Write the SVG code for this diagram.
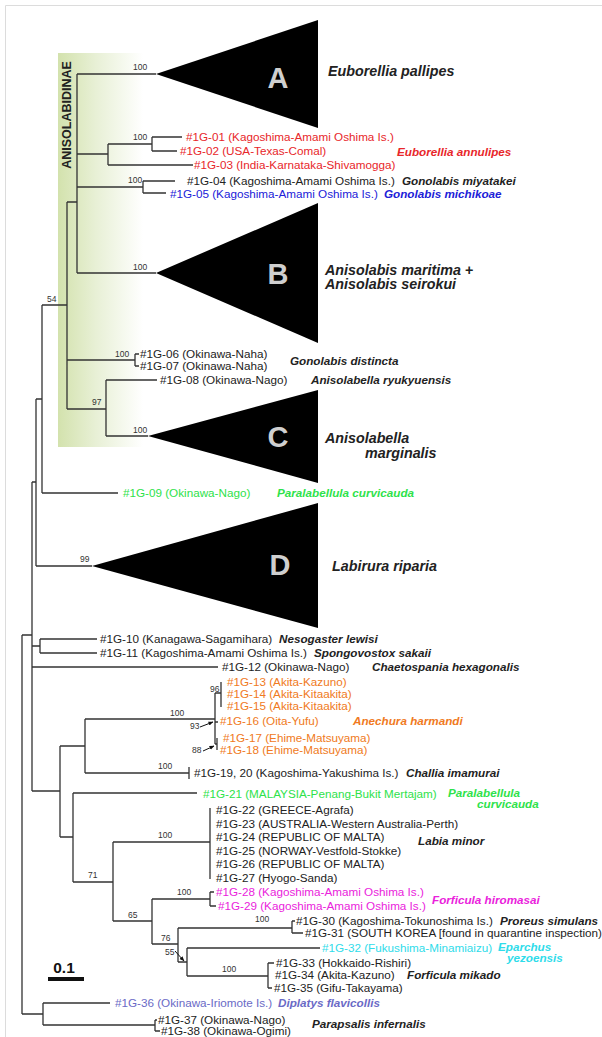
<svg xmlns="http://www.w3.org/2000/svg" width="602" height="1037" viewBox="0 0 602 1037">
<defs>
<linearGradient id="sub" x1="0" y1="0" x2="1" y2="0">
<stop offset="0" stop-color="#d3e2ad"/>
<stop offset="0.45" stop-color="#e8f0d6"/>
<stop offset="1" stop-color="#ffffff"/>
</linearGradient>
<marker id="ah" viewBox="0 0 10 10" refX="9" refY="5" markerWidth="5" markerHeight="5" orient="auto" markerUnits="userSpaceOnUse">
<path d="M0,1 L10,5 L0,9 Z" fill="#111"/>
</marker>
</defs>
<style>
text{font-family:"Liberation Sans",Arial,sans-serif;}
.lf{font-size:11.7px;fill:#222;}
.sp{font-size:11.7px;font-weight:bold;font-style:italic;fill:#222;}
.big{font-size:14.3px;font-weight:bold;font-style:italic;fill:#222;}
.bs{font-size:8.5px;fill:#333;}
.let{font-size:29px;font-weight:bold;fill:#cfcfcf;text-anchor:middle;}
.red{fill:#e8262a;}
.blu{fill:#2020d8;}
.grn{fill:#2ee24a;}
.org{fill:#f07a22;}
.mag{fill:#ea22dc;}
.cyn{fill:#2fdcea;}
.sla{fill:#6a6ac6;}
.br{fill:none;stroke:#333;stroke-width:1.3;}
.tri{fill:#000;}
.arr{stroke:#111;stroke-width:1;fill:none;marker-end:url(#ah);}
</style>
<rect width="602" height="1037" fill="#fff"/>
<path d="M5.5,1037 V5.5 H602" fill="none" stroke="#dcdcdc" stroke-width="1"/>
<g id="subfamily">
<rect x="58" y="53" width="85" height="394" fill="url(#sub)"/>
<text transform="translate(71,115) rotate(-90)" text-anchor="middle" style="font-size:12.5px;font-weight:bold;fill:#222;">ANISOLABIDINAE</text>
</g>
<g id="connectors" class="br">
<path d="M77,74 V273 M77,74 H156 M77,273 H156 M67,202 H77"/>
<path d="M77,154 H108 M108,144 V165 M108,144 H152 M108,165 H193 M152,137 V151 M152,137 H182 M152,151 H177"/>
<path d="M77,187 H143 M143,181 V193 M143,181 H175 M143,193 H166"/>
<path d="M67,202 V409 M67,360 H135 M135,354 V366 M135,354 H139 M135,366 H139"/>
<path d="M67,409 H106 M106,380 V436 M106,380 H157 M106,436 H148"/>
<path d="M42,305 H67 M42,305 V493 M42,493 H118"/>
<path d="M36,399 H42 M36,399 V566 M36,566 H92"/>
<path d="M32,482 H36 M32,482 V791 M22,635 H32 M22,635 V1014"/>
<path d="M32,646 H40 M40,639 V653 M40,639 H97 M40,653 H97 M32,667 H218"/>
<path d="M32,791 H60 M60,746 V837 M60,746 H85 M85,719 V773 M85,719 H215 M85,773 H189 M189,767 V779"/>
<path d="M215,693 V744 M215,693 H221 M221,682 V707 M215,722 H218 M215,744 H217 M217,738 V750"/>
<path d="M60,837 H73 M73,793 V882 M73,793 H197 M73,882 H113 M113,842 V921 M113,842 H210 M210,808 V879"/>
<path d="M113,921 H152 M152,899 V944 M152,899 H210 M210,892 V906 M210,892 H214 M210,906 H216"/>
<path d="M152,944 H178 M178,928 V962 M178,928 H292 M292,921 V933 M292,921 H295 M292,933 H303"/>
<path d="M178,962 H187 M187,948 V976 M187,948 H320 M187,976 H268 M268,963 V988 M268,963 H274 M268,988 H272"/>
<path d="M22,1014 H43 M43,1003 V1025 M43,1003 H110 M43,1025 H155 M155,1020 V1031 M155,1020 H157 M155,1031 H160"/>
<path class="arr" d="M200,727 L213,722"/>
<path class="arr" d="M203,751 L214,746"/>
<path class="arr" d="M175,951 L184,961"/>
</g>
<g id="clade-A">
<polygon class="tri" points="156,74 318,20 318,128"/>
<text class="let" x="278" y="88">A</text>
<text class="big" x="328" y="76">Euborellia pallipes</text>
</g>
<g id="clade-B">
<polygon class="tri" points="156,273 318,203 318,343"/>
<text class="let" x="278" y="284">B</text>
<text class="big" x="325" y="275">Anisolabis maritima +</text>
<text class="big" x="325" y="289">Anisolabis seirokui</text>
</g>
<g id="clade-C">
<polygon class="tri" points="148,436 318,390 318,483"/>
<text class="let" x="278" y="447">C</text>
<text class="big" x="325" y="443">Anisolabella</text>
<text class="big" x="365" y="458">marginalis</text>
</g>
<g id="clade-D">
<polygon class="tri" points="92,566 318,503 318,628"/>
<text class="let" x="280" y="575">D</text>
<text class="big" x="332" y="571">Labirura riparia</text>
</g>
<g id="support">
<text class="bs" x="133" y="70">100</text>
<text class="bs" x="133" y="140">100</text>
<text class="bs" x="128" y="183">100</text>
<text class="bs" x="133" y="270">100</text>
<text class="bs" x="47" y="302">54</text>
<text class="bs" x="115" y="357">100</text>
<text class="bs" x="92" y="405">97</text>
<text class="bs" x="133" y="433">100</text>
<text class="bs" x="80" y="562">99</text>
<text class="bs" x="210" y="692">96</text>
<text class="bs" x="170" y="716">100</text>
<text class="bs" x="190" y="729">93</text>
<text class="bs" x="192" y="753">88</text>
<text class="bs" x="158" y="769">100</text>
<text class="bs" x="158" y="838">100</text>
<text class="bs" x="88" y="878">71</text>
<text class="bs" x="177" y="895">100</text>
<text class="bs" x="128" y="918">65</text>
<text class="bs" x="255" y="922">100</text>
<text class="bs" x="161" y="941">76</text>
<text class="bs" x="165" y="955">55</text>
<text class="bs" x="222" y="972">100</text>
</g>
<g id="euborellia-annulipes">
<text class="lf red" x="186" y="141">#1G-01 (Kagoshima-Amami Oshima Is.)</text>
<text class="lf red" x="180" y="155">#1G-02 (USA-Texas-Comal)</text>
<text class="lf red" x="194" y="169">#1G-03 (India-Karnataka-Shivamogga)</text>
<text class="sp red" x="397" y="156">Euborellia annulipes</text>
</g>
<g id="gonolabis-miyatakei">
<text class="lf" x="187" y="185">#1G-04 (Kagoshima-Amami Oshima Is.)</text>
<text class="sp" x="402" y="185">Gonolabis miyatakei</text>
</g>
<g id="gonolabis-michikoae">
<text class="lf blu" x="170" y="198">#1G-05 (Kagoshima-Amami Oshima Is.)</text>
<text class="sp blu" x="384" y="198">Gonolabis michikoae</text>
</g>
<g id="gonolabis-distincta">
<text class="lf" x="140" y="358">#1G-06 (Okinawa-Naha)</text>
<text class="lf" x="140" y="370">#1G-07 (Okinawa-Naha)</text>
<text class="sp" x="290" y="365">Gonolabis distincta</text>
</g>
<g id="anisolabella-ryukyuensis">
<text class="lf" x="160" y="384">#1G-08 (Okinawa-Nago)</text>
<text class="sp" x="311" y="384">Anisolabella ryukyuensis</text>
</g>
<g id="paralabellula-1">
<text class="lf grn" x="123" y="497">#1G-09 (Okinawa-Nago)</text>
<text class="sp grn" x="277" y="497">Paralabellula curvicauda</text>
</g>
<g id="nesogaster">
<text class="lf" x="100" y="643">#1G-10 (Kanagawa-Sagamihara)</text>
<text class="sp" x="279" y="643">Nesogaster lewisi</text>
</g>
<g id="spongovostox">
<text class="lf" x="100" y="657">#1G-11 (Kagoshima-Amami Oshima Is.)</text>
<text class="sp" x="314" y="657">Spongovostox sakaii</text>
</g>
<g id="chaetospania">
<text class="lf" x="222" y="671">#1G-12 (Okinawa-Nago)</text>
<text class="sp" x="372" y="671">Chaetospania hexagonalis</text>
</g>
<g id="anechura">
<text class="lf org" x="227" y="686">#1G-13 (Akita-Kazuno)</text>
<text class="lf org" x="227" y="698">#1G-14 (Akita-Kitaakita)</text>
<text class="lf org" x="227" y="710">#1G-15 (Akita-Kitaakita)</text>
<text class="lf org" x="220" y="725">#1G-16 (Oita-Yufu)</text>
<text class="lf org" x="223" y="742">#1G-17 (Ehime-Matsuyama)</text>
<text class="lf org" x="220" y="754">#1G-18 (Ehime-Matsuyama)</text>
<text class="sp org" x="353" y="725">Anechura harmandi</text>
</g>
<g id="challia">
<text class="lf" x="194" y="777">#1G-19, 20 (Kagoshima-Yakushima Is.)</text>
<text class="sp" x="406" y="777">Challia imamurai</text>
</g>
<g id="paralabellula-2">
<text class="lf grn" x="203" y="798">#1G-21 (MALAYSIA-Penang-Bukit Mertajam)</text>
<text class="sp grn" x="448" y="797">Paralabellula</text>
<text class="sp grn" x="477" y="808">curvicauda</text>
</g>
<g id="labia">
<text class="lf" x="216" y="814">#1G-22 (GREECE-Agrafa)</text>
<text class="lf" x="216" y="827.6">#1G-23 (AUSTRALIA-Western Australia-Perth)</text>
<text class="lf" x="216" y="841.2">#1G-24 (REPUBLIC OF MALTA)</text>
<text class="lf" x="216" y="854.8">#1G-25 (NORWAY-Vestfold-Stokke)</text>
<text class="lf" x="216" y="868.4">#1G-26 (REPUBLIC OF MALTA)</text>
<text class="lf" x="216" y="882">#1G-27 (Hyogo-Sanda)</text>
<text class="sp" x="418" y="845">Labia minor</text>
</g>
<g id="forficula-hiromasai">
<text class="lf mag" x="216" y="896">#1G-28 (Kagoshima-Amami Oshima Is.)</text>
<text class="lf mag" x="218" y="910">#1G-29 (Kagoshima-Amami Oshima Is.)</text>
<text class="sp mag" x="432" y="904">Forficula hiromasai</text>
</g>
<g id="proreus">
<text class="lf" x="296" y="925">#1G-30 (Kagoshima-Tokunoshima Is.)</text>
<text class="lf" x="305" y="937">#1G-31 (SOUTH KOREA [found in quarantine inspection)</text>
<text class="sp" x="500" y="925">Proreus simulans</text>
</g>
<g id="eparchus">
<text class="lf cyn" x="322" y="952">#1G-32 (Fukushima-Minamiaizu)</text>
<text class="sp cyn" x="498" y="951">Eparchus</text>
<text class="sp cyn" x="507" y="962">yezoensis</text>
</g>
<g id="forficula-mikado">
<text class="lf" x="276" y="967">#1G-33 (Hokkaido-Rishiri)</text>
<text class="lf" x="275" y="979">#1G-34 (Akita-Kazuno)</text>
<text class="lf" x="274" y="992">#1G-35 (Gifu-Takayama)</text>
<text class="sp" x="407" y="979">Forficula mikado</text>
</g>
<g id="diplatys">
<text class="lf sla" x="115" y="1007">#1G-36 (Okinawa-Iriomote Is.)</text>
<text class="sp sla" x="278" y="1007">Diplatys flavicollis</text>
</g>
<g id="parapsalis">
<text class="lf" x="158" y="1024">#1G-37 (Okinawa-Nago)</text>
<text class="lf" x="161" y="1035">#1G-38 (Okinawa-Ogimi)</text>
<text class="sp" x="312" y="1028">Parapsalis infernalis</text>
</g>
<g id="scale">
<text x="64" y="973" text-anchor="middle" style="font-size:15.5px;font-weight:bold;fill:#111;">0.1</text>
<rect x="48" y="977" width="36" height="4" fill="#111"/>
</g>
</svg>
